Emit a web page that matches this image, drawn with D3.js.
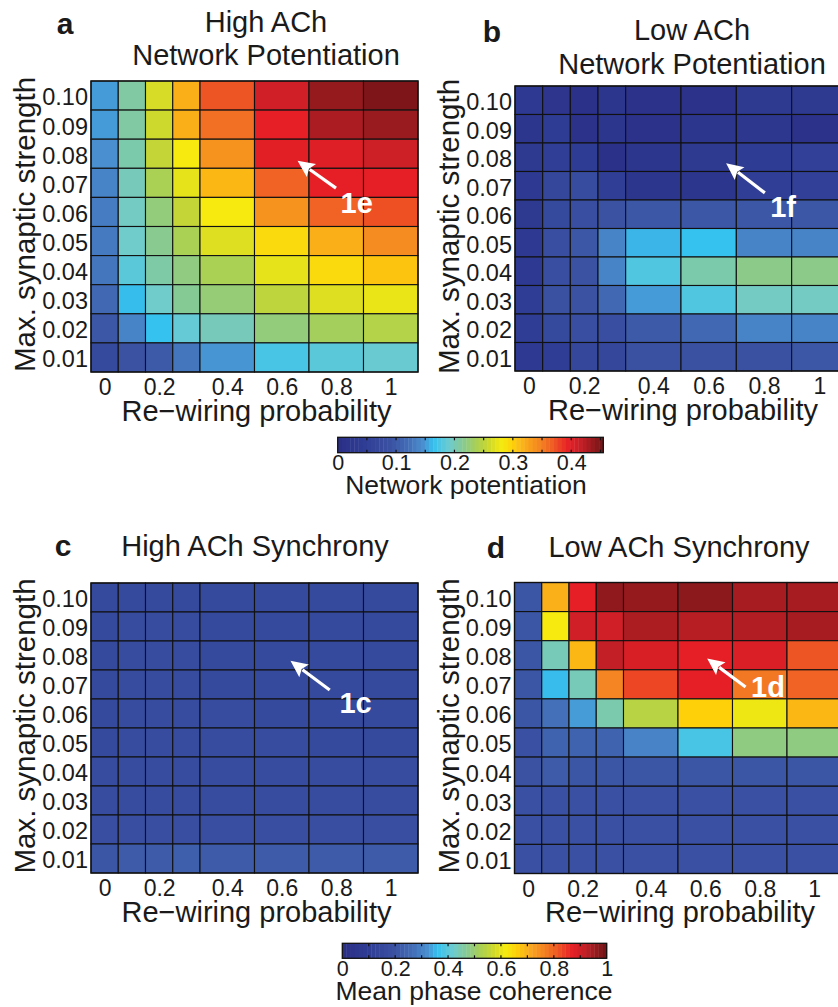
<!DOCTYPE html>
<html>
<head>
<meta charset="utf-8">
<script src="https://cdn.jsdelivr.net/npm/d3@7"></script>
<style>
  html, body { margin: 0; padding: 0; background: #fff; }
  svg { display: block; font-family: "Liberation Sans", Arial, Helvetica, sans-serif; }
</style>
</head>
<body>
<svg id="chart" width="838" height="1007"></svg>
<script>
// ---------------- DATA ----------------
const rewiringProb = [0, 0.1, 0.2, 0.3, 0.4, 0.6, 0.8, 1.0];
const synStrength = ["0.10", "0.09", "0.08", "0.07", "0.06", "0.05", "0.04", "0.03", "0.02", "0.01"]; // top -> bottom
const xTickValues = [0, 0.2, 0.4, 0.6, 0.8, 1];
const potTicks = [0, 0.1, 0.2, 0.3, 0.4];
const cohTicks = [0, 0.2, 0.4, 0.6, 0.8, 1];
const potMax = 0.455;
const cohMax = 1;

// Network potentiation, high ACh (rows: 0.10 ... 0.01)
const potHighACh = [
  [0.150, 0.209, 0.264, 0.319, 0.371, 0.410, 0.437, 0.448],
  [0.150, 0.209, 0.259, 0.319, 0.357, 0.396, 0.428, 0.435],
  [0.146, 0.205, 0.253, 0.282, 0.337, 0.398, 0.400, 0.412],
  [0.137, 0.200, 0.237, 0.273, 0.314, 0.364, 0.396, 0.396],
  [0.132, 0.196, 0.223, 0.253, 0.282, 0.337, 0.364, 0.373],
  [0.130, 0.193, 0.216, 0.237, 0.268, 0.293, 0.319, 0.341],
  [0.127, 0.182, 0.207, 0.221, 0.237, 0.273, 0.293, 0.307],
  [0.114, 0.162, 0.193, 0.214, 0.225, 0.250, 0.268, 0.275],
  [0.096, 0.137, 0.164, 0.187, 0.200, 0.223, 0.234, 0.243],
  [0.073, 0.091, 0.100, 0.127, 0.148, 0.173, 0.182, 0.189]
];
// Network potentiation, low ACh
const potLowACh = [
  [0.036, 0.018, 0.005, 0.023, 0.009, 0.009, 0.032, 0.032],
  [0.023, 0.041, 0.009, 0.023, 0.009, 0.023, 0.027, 0.009],
  [0.032, 0.050, 0.041, 0.005, 0.023, 0.032, 0.041, 0.055],
  [0.036, 0.068, 0.077, 0.050, 0.023, 0.023, 0.050, 0.055],
  [0.032, 0.073, 0.082, 0.091, 0.096, 0.096, 0.096, 0.096],
  [0.036, 0.082, 0.096, 0.137, 0.159, 0.164, 0.137, 0.137],
  [0.036, 0.082, 0.091, 0.137, 0.177, 0.205, 0.218, 0.218],
  [0.046, 0.086, 0.091, 0.114, 0.150, 0.177, 0.196, 0.196],
  [0.046, 0.073, 0.082, 0.082, 0.100, 0.114, 0.137, 0.137],
  [0.036, 0.046, 0.068, 0.068, 0.086, 0.086, 0.086, 0.096]
];
// Mean phase coherence, high ACh
const syncHighACh = [
  [0.16, 0.16, 0.16, 0.16, 0.16, 0.16, 0.16, 0.16],
  [0.16, 0.17, 0.17, 0.17, 0.16, 0.16, 0.16, 0.16],
  [0.16, 0.17, 0.17, 0.17, 0.16, 0.16, 0.16, 0.16],
  [0.16, 0.17, 0.17, 0.17, 0.16, 0.16, 0.16, 0.16],
  [0.16, 0.17, 0.17, 0.17, 0.17, 0.16, 0.16, 0.16],
  [0.16, 0.17, 0.17, 0.17, 0.17, 0.17, 0.16, 0.16],
  [0.17, 0.17, 0.17, 0.17, 0.17, 0.17, 0.17, 0.17],
  [0.17, 0.17, 0.17, 0.17, 0.17, 0.17, 0.17, 0.17],
  [0.18, 0.18, 0.18, 0.18, 0.18, 0.18, 0.18, 0.18],
  [0.21, 0.22, 0.22, 0.23, 0.22, 0.22, 0.22, 0.22]
];
// Mean phase coherence, low ACh
const syncLowACh = [
  [0.21, 0.70, 0.87, 0.965, 0.96, 0.97, 0.945, 0.945],
  [0.21, 0.62, 0.90, 0.90, 0.94, 0.93, 0.935, 0.945],
  [0.21, 0.44, 0.69, 0.92, 0.89, 0.87, 0.885, 0.815],
  [0.21, 0.355, 0.44, 0.76, 0.83, 0.87, 0.775, 0.80],
  [0.21, 0.27, 0.33, 0.45, 0.54, 0.66, 0.61, 0.69],
  [0.19, 0.24, 0.24, 0.24, 0.30, 0.38, 0.485, 0.485],
  [0.20, 0.22, 0.21, 0.21, 0.21, 0.21, 0.21, 0.21],
  [0.19, 0.19, 0.19, 0.19, 0.19, 0.19, 0.19, 0.19],
  [0.19, 0.19, 0.19, 0.19, 0.19, 0.19, 0.19, 0.19],
  [0.19, 0.19, 0.19, 0.19, 0.19, 0.19, 0.19, 0.19]
];

// ---------------- STYLE ----------------
const cmapStops  = [0.00, 0.10, 0.20, 0.27, 0.32, 0.36, 0.42, 0.47, 0.52, 0.57, 0.62, 0.66, 0.71, 0.76, 0.81, 0.87, 0.92, 0.96, 1.00];
const cmapColors = ["#2b2f86", "#2f3d94", "#3b52a3", "#4370b9", "#4a8fcf", "#35c2ef", "#6ecbd0", "#85c995", "#a9d055",
                    "#cfd92c", "#f6ea0e", "#fdd00a", "#f9a81b", "#f48522", "#ef5a24", "#e61f26", "#c21f26", "#951a1e", "#6f1416"];
const cmap = d3.scaleLinear().domain(cmapStops).range(cmapColors).interpolate(d3.interpolateRgb).clamp(true);
const TXT = "#1a1a1a";
const FONT = '"Liberation Sans", Arial, Helvetica, sans-serif';

const svg = d3.select("#chart");

// column widths derived from the spacing of re-wiring probabilities
const colUnits = rewiringProb.map((p, i, a) =>
  i < a.length - 1 ? Math.round((a[i + 1] - p) / 0.1) : Math.round((p - a[i - 1]) / 0.1));
const colStart = colUnits.map((u, i) => d3.sum(colUnits.slice(0, i)));
const totalUnits = d3.sum(colUnits);

const panels = [
  { letter: "a", data: potHighACh, max: potMax, title: ["High ACh", "Network Potentiation"],
    x: 91, y: 81, w: 327, h: 291, titleX: 266, titleY: [32, 65], letterX: 65, letterY: 34,
    ann: { label: "1e", head: [7.58, 2.74], tail: [8.99, 3.68], text: [9.75, 4.54] } },
  { letter: "b", data: potLowACh, max: potMax, title: ["Low ACh", "Network Potentiation"],
    x: 515, y: 86, w: 332, h: 285, titleX: 692, titleY: [40, 74], letterX: 492, letterY: 42,
    ann: { label: "1f", head: [7.63, 2.71], tail: [9.03, 3.75], text: [9.69, 4.59] } },
  { letter: "c", data: syncHighACh, max: cohMax, title: ["High ACh Synchrony"],
    x: 91, y: 583, w: 327, h: 290, titleX: 255, titleY: [556], letterX: 63, letterY: 556,
    ann: { label: "1c", head: [7.32, 2.68], tail: [8.76, 3.69], text: [9.71, 4.49] } },
  { letter: "d", data: syncLowACh, max: cohMax, title: ["Low ACh Synchrony"],
    x: 514.5, y: 582.5, w: 327, h: 291, titleX: 679, titleY: [557], letterX: 496, letterY: 558,
    ann: { label: "1d", head: [7.07, 2.61], tail: [8.48, 3.59], text: [9.3, 3.93] } }
];

panels.forEach(p => {
  const g = svg.append("g").attr("transform", `translate(${p.x},${p.y})`);
  const xu = d3.scaleLinear().domain([0, totalUnits]).range([0, p.w]);
  const yb = d3.scaleBand().domain(synStrength).range([0, p.h]);
  const yr = d3.scaleLinear().domain([0, synStrength.length]).range([0, p.h]);
  const norm = d3.scaleLinear().domain([0, p.max]).range([0, 1]).clamp(true);

  const cells = [];
  p.data.forEach((row, r) => row.forEach((v, c) => cells.push({ r, c, v })));
  g.selectAll("rect.cell").data(cells).join("rect")
    .attr("class", "cell")
    .attr("x", d => xu(colStart[d.c]))
    .attr("y", d => yb(synStrength[d.r]))
    .attr("width", d => xu(colUnits[d.c]) - xu(0))
    .attr("height", yb.bandwidth())
    .attr("fill", d => cmap(norm(d.v)))
    .attr("stroke", "#111")
    .attr("stroke-width", 1.1);

  g.append("rect").attr("x", 0).attr("y", 0).attr("width", p.w).attr("height", p.h)
    .attr("fill", "none").attr("stroke", "#111").attr("stroke-width", 1.3);

  // y axis
  const ya = g.append("g").call(d3.axisLeft(yb).tickSize(0).tickPadding(3));
  ya.select(".domain").remove();
  ya.selectAll("text").attr("font-size", 23.5).attr("font-family", FONT).attr("fill", TXT).attr("dy", "0.42em");

  // x axis (ticks at column centres)
  const centerOf = v => { const i = rewiringProb.indexOf(v); return colStart[i] + colUnits[i] / 2; };
  const xa = g.append("g").attr("transform", `translate(0,${p.h})`)
    .call(d3.axisBottom(xu).tickValues(xTickValues.map(centerOf))
      .tickFormat((d, i) => d3.format("~g")(xTickValues[i])).tickSize(0).tickPadding(7));
  xa.select(".domain").remove();
  xa.selectAll("text").attr("font-size", 23).attr("font-family", FONT).attr("fill", TXT);

  // axis titles
  g.append("text").attr("x", p.w / 2 + 2).attr("y", p.h + 48.5)
    .attr("text-anchor", "middle").attr("font-size", 29).attr("fill", TXT)
    .text("Re\u2212wiring probability");
  g.append("text").attr("transform", `translate(-56,${p.h / 2 - 2}) rotate(-90)`)
    .attr("text-anchor", "middle").attr("font-size", 29.5).attr("fill", TXT)
    .text("Max. synaptic strength");

  // titles & panel letters
  p.title.forEach((t, i) => {
    svg.append("text").attr("x", p.titleX).attr("y", p.titleY[i]).attr("text-anchor", "middle")
      .attr("font-size", 29).attr("fill", TXT).text(t);
  });
  svg.append("text").attr("x", p.letterX).attr("y", p.letterY).attr("text-anchor", "middle")
    .attr("font-size", 30).attr("font-weight", "bold").attr("fill", TXT).text(p.letter);

  // annotation arrow
  const hx = xu(p.ann.head[0]), hy = yr(p.ann.head[1]);
  const tx = xu(p.ann.tail[0]), ty = yr(p.ann.tail[1]);
  const ang = Math.atan2(hy - ty, hx - tx);
  const hl = 17, hw = 8;
  const bx = hx - hl * Math.cos(ang), by = hy - hl * Math.sin(ang);
  g.append("line").attr("x1", tx).attr("y1", ty).attr("x2", bx + 2 * Math.cos(ang)).attr("y2", by + 2 * Math.sin(ang))
    .attr("stroke", "#fff").attr("stroke-width", 3.2);
  g.append("path")
    .attr("d", `M${hx},${hy}L${bx + hw * Math.sin(ang)},${by - hw * Math.cos(ang)}L${bx + 3 * Math.cos(ang)},${by + 3 * Math.sin(ang)}L${bx - hw * Math.sin(ang)},${by + hw * Math.cos(ang)}Z`)
    .attr("fill", "#fff");
  g.append("text").attr("x", xu(p.ann.text[0])).attr("y", yr(p.ann.text[1]))
    .attr("text-anchor", "middle").attr("font-size", 29).attr("font-weight", "bold")
    .attr("fill", "#fff").text(p.ann.label);
});

// ---------------- COLORBARS ----------------
function colorbar(cfg) {
  const g = svg.append("g").attr("transform", `translate(${cfg.x},${cfg.y})`);
  const s = d3.scaleLinear().domain([0, cfg.max]).range([0, cfg.w]);
  const n = 64;
  const steps = d3.range(n);
  g.selectAll("rect.step").data(steps).join("rect")
    .attr("class", "step")
    .attr("x", i => s(i * cfg.max / n))
    .attr("width", i => s((i + 1) * cfg.max / n) - s(i * cfg.max / n) + 0.4)
    .attr("y", 0).attr("height", cfg.h)
    .attr("fill", i => cmap((i + 0.5) / n));
  g.append("rect").attr("width", cfg.w).attr("height", cfg.h).attr("fill", "none")
    .attr("stroke", "#111").attr("stroke-width", 1.3);
  const minor = d3.range(cfg.minorStep, cfg.max - 1e-9, cfg.minorStep);
  g.selectAll("line.mt").data(minor).join("line").attr("class", "mt")
    .attr("x1", d => s(d)).attr("x2", d => s(d)).attr("y1", 0).attr("y2", 3)
    .attr("stroke", "#111").attr("stroke-width", 1.2);
  g.selectAll("line.mb").data(minor).join("line").attr("class", "mb")
    .attr("x1", d => s(d)).attr("x2", d => s(d)).attr("y1", cfg.h - 3).attr("y2", cfg.h)
    .attr("stroke", "#111").attr("stroke-width", 1.2);
  const ax = g.append("g").attr("transform", `translate(0,${cfg.h})`)
    .call(d3.axisBottom(s).tickValues(cfg.ticks).tickFormat(d3.format("~g")).tickSize(0).tickPadding(2));
  ax.select(".domain").remove();
  ax.selectAll("text").attr("font-size", 21.5).attr("font-family", FONT).attr("fill", TXT);
  g.append("text").attr("x", cfg.labelX - cfg.x).attr("y", cfg.h + 41.5).attr("text-anchor", "middle")
    .attr("font-size", 26.5).attr("fill", TXT).text(cfg.label);
}

colorbar({ x: 337.7, y: 437.3, w: 265.6, h: 15.4, max: potMax, ticks: potTicks, minorStep: 0.05,
           label: "Network potentiation", labelX: 466 });
colorbar({ x: 342.3, y: 943.3, w: 264.4, h: 15, max: cohMax, ticks: cohTicks, minorStep: 0.1,
           label: "Mean phase coherence", labelX: 474 });
</script>
</body>
</html>
